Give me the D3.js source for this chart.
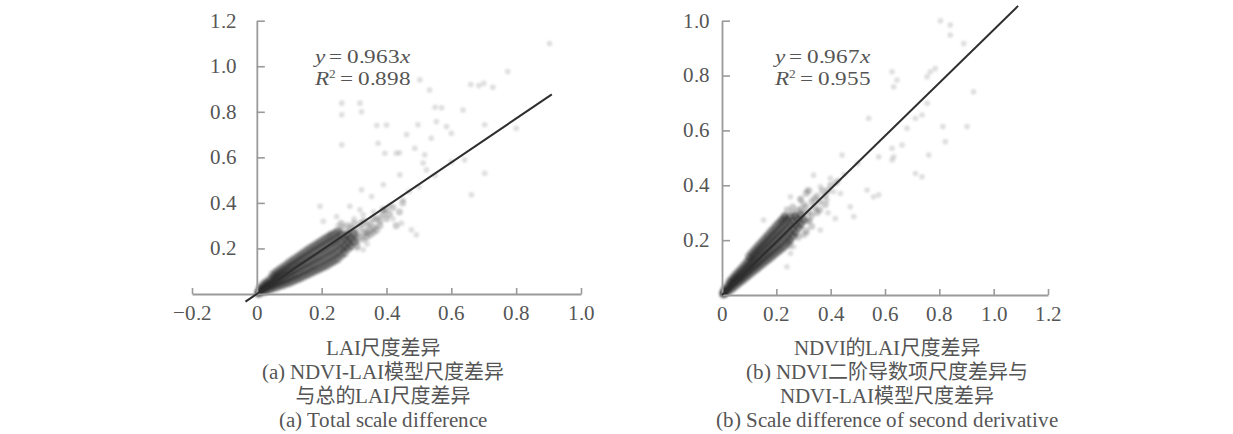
<!DOCTYPE html>
<html><head><meta charset="utf-8">
<script src="https://cdn.jsdelivr.net/npm/d3@7"></script>
<style>
@font-face{font-family:"LSerif";src:local("Liberation Serif"),local("LiberationSerif");font-style:normal;size-adjust:107%}
@font-face{font-family:"LSerif";src:local("Liberation Serif Italic"),local("LiberationSerif-Italic");font-style:italic;size-adjust:107%}
body{margin:0;background:#fff}svg{display:block}
</style>
</head><body><svg id="c" width="1233" height="434"><defs><filter id="soft" x="-5%" y="-5%" width="110%" height="110%"><feGaussianBlur stdDeviation="0.9"/></filter></defs></svg>
<script>
// ---------- data ----------
const xTicksA=[-0.2,0,0.2,0.4,0.6,0.8,1.0];
const xTickLabelsA=["\u22120.2","0","0.2","0.4","0.6","0.8","1.0"];
const yTicksA=[0.2,0.4,0.6,0.8,1.0,1.2];
const yTickLabelsA=["0.2","0.4","0.6","0.8","1.0","1.2"];
const xTicksB=[0,0.2,0.4,0.6,0.8,1.0,1.2];
const xTickLabelsB=["0","0.2","0.4","0.6","0.8","1.0","1.2"];
const yTicksB=[0.2,0.4,0.6,0.8,1.0];
const yTickLabelsB=["0.2","0.4","0.6","0.8","1.0"];
const slopeA=0.963, r2A="0.898", fitRangeA=[-0.035,0.91];
const slopeB=0.967, r2B="0.955", fitRangeB=[0,1.09];
const xLabelA="LAI尺度差异", yLabelA="NDVI的LAI尺度差异";
const xLabelB="NDVI的LAI尺度差异", yLabelB="NDVI二阶导LAI尺度差异";
const captionA=["(a) NDVI-LAI模型尺度差异","与总的LAI尺度差异","(a) Total scale difference"];
const captionB=["(b) NDVI二阶导数项尺度差异与","NDVI-LAI模型尺度差异","(b) Scale difference of second derivative"];

// dense core: [x, [y values at that x]]
const clusterRowsA=[
[0.005,[0.002,0.008]],[0.01,[0.008,0.016,0.026]],[0.02,[0.01,0.021,0.031,0.042]],[0.03,[0.015,0.028,0.041,0.053]],
[0.04,[0.02,0.035,0.048,0.063]],[0.05,[0.026,0.041,0.056,0.071,0.085]],[0.06,[0.03,0.047,0.064,0.08,0.096]],
[0.07,[0.036,0.054,0.071,0.089,0.106]],[0.08,[0.04,0.06,0.079,0.098,0.116]],[0.09,[0.046,0.066,0.087,0.106,0.126]],
[0.1,[0.05,0.073,0.094,0.116,0.138]],[0.11,[0.056,0.08,0.102,0.125,0.147]],[0.12,[0.063,0.086,0.11,0.133,0.157]],
[0.13,[0.068,0.093,0.119,0.142,0.167]],[0.14,[0.075,0.101,0.126,0.151,0.177]],[0.15,[0.082,0.108,0.135,0.16,0.186]],
[0.16,[0.088,0.115,0.142,0.169,0.196]],[0.17,[0.096,0.123,0.151,0.178,0.205]],[0.18,[0.102,0.13,0.158,0.187,0.214]],
[0.19,[0.109,0.138,0.166,0.195,0.224]],[0.2,[0.115,0.145,0.175,0.204,0.232]],[0.21,[0.122,0.152,0.183,0.213,0.242]],
[0.22,[0.13,0.16,0.19,0.221,0.25]],[0.23,[0.138,0.168,0.198,0.229,0.258]],[0.24,[0.146,0.176,0.207,0.236,0.266]],
[0.25,[0.155,0.185,0.215,0.245,0.274]],[0.26,[0.17,0.2,0.23,0.26]],[0.27,[0.18,0.21,0.24]],
[0.28,[0.2,0.23,0.26]],[0.29,[0.21,0.245]],[0.3,[0.23,0.265]]];
const mediumA=[[0.28,0.27],[0.3,0.28],[0.31,0.26],[0.32,0.29],[0.33,0.27],[0.34,0.3],[0.35,0.31],[0.36,0.29],[0.37,0.33],[0.38,0.32],[0.39,0.35],[0.4,0.37],[0.33,0.24],[0.35,0.26],[0.37,0.28],[0.32,0.31],[0.29,0.29],[0.27,0.26],[0.31,0.23],[0.34,0.25],[0.36,0.33],[0.26,0.31],[0.28,0.3],[0.31,0.21],[0.33,0.32],[0.35,0.28],[0.38,0.3],[0.39,0.37],[0.41,0.35],[0.3,0.31],[0.27,0.2],[0.29,0.22],[0.3,0.25],[0.32,0.25],[0.34,0.27],[0.36,0.27],[0.4,0.33],[0.42,0.38],[0.44,0.36],[0.43,0.3],[0.45,0.4],[0.26,0.28],[0.28,0.24]];
const outliersA=[[0.903,1.10],[0.774,0.977],[0.66,0.92],[0.685,0.915],[0.70,0.925],[0.728,0.908],[0.503,0.94],[0.533,0.896],[0.262,0.838],[0.318,0.838],[0.262,0.787],[0.323,0.80],[0.55,0.82],[0.57,0.818],[0.636,0.808],[0.554,0.757],[0.585,0.735],[0.37,0.74],[0.40,0.742],[0.497,0.743],[0.462,0.70],[0.538,0.684],[0.60,0.706],[0.262,0.655],[0.374,0.662],[0.43,0.618],[0.44,0.62],[0.395,0.618],[0.487,0.64],[0.518,0.611],[0.513,0.575],[0.641,0.589],[0.703,0.743],[0.80,0.728],[0.441,0.523],[0.39,0.48],[0.523,0.545],[0.703,0.53],[0.662,0.436],[0.477,0.282],[0.492,0.26],[0.446,0.311],[0.318,0.37],[0.287,0.385],[0.205,0.319],[0.195,0.385],[0.323,0.458],[0.354,0.428],[0.328,0.348],[0.38,0.34],[0.41,0.39],[0.39,0.37],[0.451,0.414],[0.338,0.268],[0.369,0.297],[0.328,0.194],[0.308,0.238],[0.287,0.268],[0.267,0.297],[0.246,0.34],[0.226,0.268],[0.42,0.33],[0.36,0.36],[0.3,0.33],[0.25,0.3],[0.47,0.45],[0.5,0.47],[0.55,0.52],[0.6,0.58],[0.34,0.22],[0.31,0.2]];

const clusterRowsB=[
[0.005,[0.003,0.008]],[0.01,[0.006,0.012,0.02]],[0.02,[0.012,0.022,0.032]],[0.03,[0.018,0.03,0.042,0.05]],
[0.04,[0.026,0.04,0.052,0.062]],[0.05,[0.034,0.048,0.062,0.074]],[0.06,[0.042,0.056,0.07,0.084]],
[0.07,[0.05,0.064,0.08,0.095]],[0.08,[0.058,0.073,0.09,0.106]],[0.09,[0.066,0.082,0.1,0.117]],
[0.1,[0.074,0.09,0.108,0.126,0.14]],[0.11,[0.082,0.1,0.118,0.136,0.152]],[0.12,[0.09,0.108,0.128,0.147,0.164]],
[0.13,[0.098,0.117,0.137,0.157,0.175]],[0.14,[0.106,0.126,0.147,0.167,0.186]],[0.15,[0.114,0.135,0.156,0.177,0.197]],
[0.16,[0.122,0.144,0.165,0.187,0.208]],[0.17,[0.13,0.152,0.175,0.197,0.219]],[0.18,[0.138,0.161,0.184,0.207,0.23]],
[0.19,[0.146,0.17,0.194,0.217,0.24]],[0.2,[0.154,0.178,0.203,0.227,0.252]],[0.21,[0.162,0.187,0.213,0.237,0.262]],
[0.22,[0.17,0.196,0.222,0.247,0.273]],[0.23,[0.178,0.205,0.232,0.258,0.284]],[0.24,[0.19,0.218,0.245,0.272]],
[0.25,[0.2,0.228,0.256,0.284]],[0.26,[0.215,0.243,0.27]],[0.27,[0.23,0.258,0.286]],
[0.28,[0.245,0.275]],[0.29,[0.26,0.29]],[0.3,[0.275]]];
const mediumB=[[0.3,0.3],[0.31,0.32],[0.32,0.3],[0.33,0.34],[0.34,0.32],[0.35,0.36],[0.36,0.34],[0.37,0.38],[0.38,0.36],[0.4,0.4],[0.42,0.41],[0.31,0.27],[0.33,0.29],[0.35,0.3],[0.28,0.31],[0.3,0.33],[0.26,0.3],[0.24,0.28],[0.25,0.2],[0.27,0.22],[0.29,0.35],[0.31,0.37],[0.32,0.38],[0.31,0.235],[0.33,0.25],[0.29,0.25],[0.32,0.27],[0.34,0.35],[0.36,0.31],[0.22,0.27],[0.24,0.31],[0.26,0.32],[0.28,0.21],[0.3,0.22],[0.25,0.18],[0.27,0.29],[0.29,0.31],[0.23,0.29],[0.38,0.33],[0.39,0.38]];
const outliersB=[[0.804,1.0],[0.84,0.984],[0.84,0.948],[0.89,0.917],[0.926,0.741],[0.785,0.826],[0.755,0.796],[0.767,0.814],[0.626,0.814],[0.644,0.784],[0.632,0.759],[0.54,0.644],[0.755,0.699],[0.736,0.656],[0.712,0.644],[0.681,0.608],[0.813,0.614],[0.902,0.614],[0.822,0.559],[0.663,0.547],[0.626,0.535],[0.632,0.504],[0.626,0.492],[0.577,0.504],[0.761,0.51],[0.442,0.51],[0.712,0.443],[0.736,0.431],[0.558,0.358],[0.577,0.365],[0.534,0.383],[0.472,0.322],[0.417,0.279],[0.485,0.286],[0.429,0.419],[0.399,0.425],[0.337,0.437],[0.362,0.395],[0.387,0.346],[0.35,0.31],[0.325,0.273],[0.362,0.237],[0.313,0.225],[0.264,0.176],[0.239,0.103],[0.252,0.152],[0.288,0.346],[0.313,0.383],[0.252,0.358],[0.153,0.273],[0.436,0.37],[0.411,0.377],[0.45,0.44],[0.5,0.48],[0.39,0.3]];

// ---------- drawing ----------
const svg=d3.select("#c");
const SERIF='"LSerif","Liberation Serif","Times New Roman","Noto Sans CJK SC",serif';
const AXIS="#9a9a9a", TXT="#555";

function panel(o){
  const x=d3.scaleLinear().domain(o.xDom).range(o.xRange);
  const y=d3.scaleLinear().domain(o.yDom).range(o.yRange);
  const g=svg.append("g");
  const core=o.rows.flatMap(([xv,ys])=>ys.map(yv=>[xv,yv]));
  const pts=g.append("g").attr("filter","url(#soft)");
  pts.append("g").selectAll("circle").data(o.outliers).join("circle")
    .attr("cx",d=>x(d[0])).attr("cy",d=>y(d[1])).attr("r",2.8)
    .attr("fill","#8a8a8a").attr("fill-opacity",0.28);
  pts.append("g").selectAll("circle").data(o.medium).join("circle")
    .attr("cx",d=>x(d[0])).attr("cy",d=>y(d[1])).attr("r",3.4)
    .attr("fill","#555").attr("fill-opacity",0.3);
  pts.append("g").selectAll("circle").data(core).join("circle")
    .attr("cx",d=>x(d[0])).attr("cy",d=>y(d[1])).attr("r",4.3)
    .attr("fill","#222").attr("fill-opacity",0.42);
  const xa=d3.axisBottom(x).tickValues(o.xTicks).tickFormat((d,i)=>o.xLabels[i])
    .tickSizeInner(-6).tickSizeOuter(0).tickPadding(12);
  const ya=d3.axisLeft(y).tickValues(o.yTicks).tickFormat((d,i)=>o.yLabels[i])
    .tickSizeInner(-8).tickSizeOuter(0).tickPadding(o.yPad);
  const gx=g.append("g").attr("transform",`translate(0,${y(0)})`).call(xa);
  const gy=g.append("g").attr("transform",`translate(${x(0)},0)`).call(ya);
  [gx,gy].forEach(a=>{
    a.select(".domain").attr("stroke",AXIS).attr("stroke-width",1.8);
    a.selectAll(".tick line").attr("stroke",AXIS).attr("stroke-width",1.6);
    a.selectAll(".tick text").attr("fill",TXT).style("font-family",SERIF).style("font-size","20px");
  });
  g.append("line")
    .attr("x1",x(o.fit[0])).attr("y1",y(o.slope*o.fit[0]))
    .attr("x2",x(o.fit[1])).attr("y2",y(o.slope*o.fit[1]))
    .attr("stroke","#2e2e2e").attr("stroke-width",2);
  // equation (glyphs in the reference are horizontally widened)
  const eqG=g.append("g").attr("transform",`translate(${o.eqX},0) scale(1.22,1)`);
  const eq=eqG.append("text").attr("x",0).attr("y",63).attr("fill",TXT)
    .style("font-family",SERIF).style("font-size","18px");
  eq.append("tspan").style("font-style","italic").text("y");
  eq.append("tspan").text("\u2009=\u2009"+o.slope.toFixed(3));
  eq.append("tspan").style("font-style","italic").text("x");
  const eq2=eqG.append("text").attr("x",0).attr("y",85).attr("fill",TXT)
    .style("font-family",SERIF).style("font-size","18px");
  eq2.append("tspan").style("font-style","italic").text("R");
  eq2.append("tspan").attr("dy",-7).style("font-size","10px").text("2");
  eq2.append("tspan").attr("dy",7).text("\u2009=\u2009"+o.r2);
  g.append("text").attr("transform",`translate(${o.yLabX},${o.yLabY}) rotate(-90)`)
    .attr("text-anchor","middle").attr("dominant-baseline","central").attr("fill",TXT)
    .style("font-family",SERIF).style("font-size","20px").text(o.yLabel);
  const lines=[o.xLabel].concat(o.caption);
  g.selectAll("text.cap").data(lines).join("text").attr("class","cap")
    .attr("x",o.capX).attr("y",(d,i)=>355+i*24).attr("text-anchor","middle").attr("fill",TXT)
    .style("font-family",SERIF).style("font-size","20px").text(d=>d);
}

panel({xDom:[-0.2,1.0],xRange:[192,581],yDom:[0,1.2],yRange:[294,20.7],
  xTicks:xTicksA,xLabels:xTickLabelsA,yTicks:yTicksA,yLabels:yTickLabelsA,yPad:20,
  rows:clusterRowsA,medium:mediumA,outliers:outliersA,slope:slopeA,r2:r2A,fit:fitRangeA,
  eqX:315,yLabX:173,yLabY:152,xLabel:xLabelA,caption:captionA,capX:383});
panel({xDom:[0,1.2],xRange:[722,1048],yDom:[0,1.0],yRange:[295,20.7],
  xTicks:xTicksB,xLabels:xTickLabelsB,yTicks:yTicksB,yLabels:yTickLabelsB,yPad:12,
  rows:clusterRowsB,medium:mediumB,outliers:outliersB,slope:slopeB,r2:r2B,fit:fitRangeB,
  eqX:775,yLabX:645,yLabY:151,xLabel:xLabelB,caption:captionB,capX:887});
</script></body></html>
